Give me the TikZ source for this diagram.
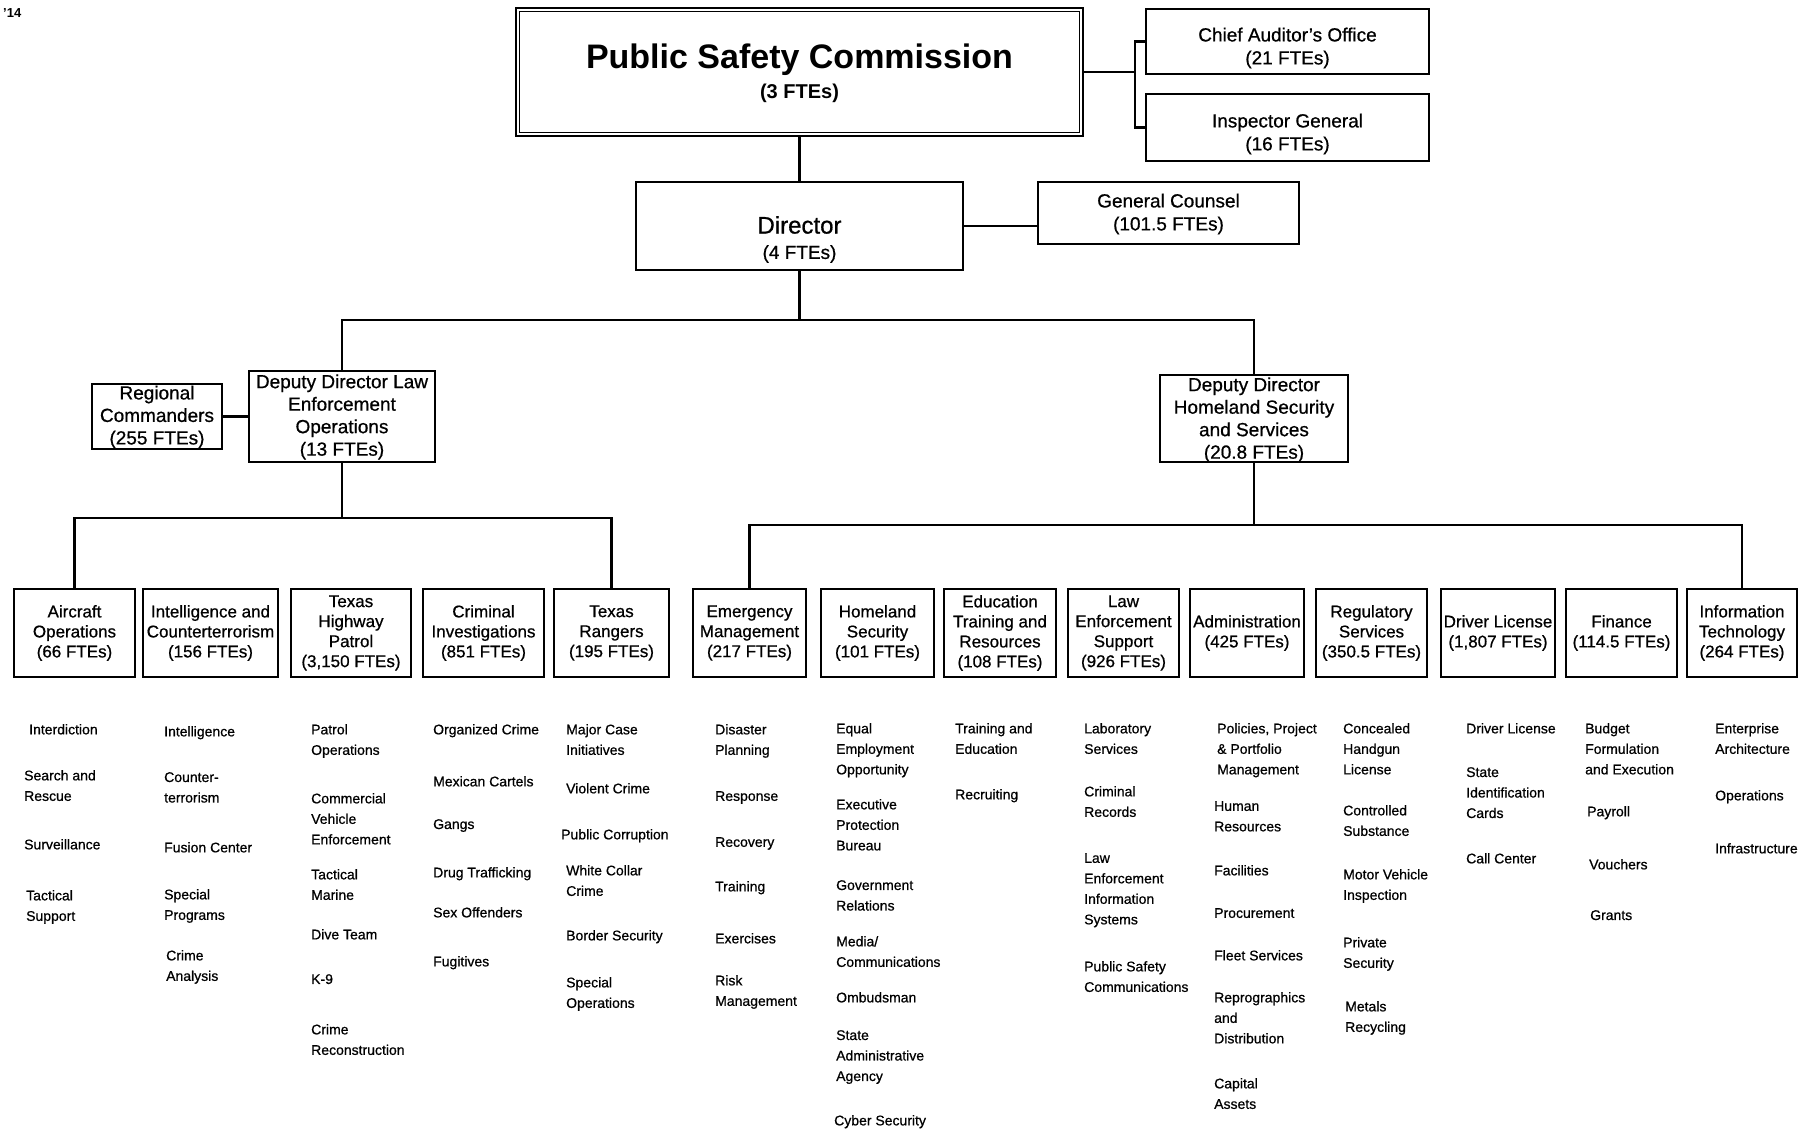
\documentclass[tikz,border=0pt]{standalone}
\usepackage{fontspec}
\setmainfont{Liberation Sans}
\newfontfamily\heavy[FakeBold=0.7]{Liberation Sans}
\begin{document}
\begin{tikzpicture}[x=1pt,y=-1pt,
  line/.style={line width=2.2pt},
  box/.style={draw,line width=2.2pt,inner sep=1pt,align=center,font=\heavy\fontsize{17}{20}\selectfont,minimum height=88pt},
  frame/.style={draw,line width=2.2pt,inner sep=0pt},
  lbl/.style={align=center,inner sep=0pt,font=\heavy\fontsize{19}{22.5}\selectfont},
  item/.style={anchor=north west,align=left,inner sep=0pt,font=\heavy\fontsize{14}{20.5}\selectfont}]
\path[use as bounding box] (0,0) rectangle (1806,1130);

\node[anchor=west,inner sep=0pt,font=\bfseries\fontsize{13}{14}\selectfont] (hdr) at (3,13) {’14};

% top level
\node[frame,line width=2.6pt,minimum width=567pt,minimum height=128pt] (psc) at (799.5,72) {};
\draw[line width=1.2pt] ([shift={(5pt,-5pt)}]psc.north west) rectangle ([shift={(-5pt,5pt)}]psc.south east);
\node[inner sep=0pt,font=\bfseries\fontsize{34}{40}\selectfont] (pscT) at (799.5,60) {Public Safety Commission};
\node[inner sep=0pt,font=\bfseries\fontsize{20}{24}\selectfont] (pscF) at (799.5,93) {(3 FTEs)};

\node[frame,minimum width=283pt,minimum height=65pt] (cao) at (1287.5,41.5) {};
\node[lbl,font=\heavy\fontsize{19}{23}\selectfont] (caoT) at (1287.5,48) {Chief Auditor’s Office\\(21 FTEs)};
\node[frame,minimum width=283pt,minimum height=67pt] (ig) at (1287.5,127.5) {};
\node[lbl,font=\heavy\fontsize{19}{23}\selectfont] (igT) at (1287.5,134) {Inspector General\\(16 FTEs)};

\node[frame,minimum width=327pt,minimum height=88pt] (dir) at (799.5,226) {};
\node[inner sep=0pt,font=\heavy\fontsize{24}{28}\selectfont] (dirT) at (799.5,225) {Director};
\node[inner sep=0pt,font=\heavy\fontsize{19}{22}\selectfont] (dirF) at (799.5,254) {(4 FTEs)};

\node[frame,minimum width=261pt,minimum height=62pt] (gc) at (1168.5,213) {};
\node[lbl,font=\heavy\fontsize{19}{23}\selectfont] (gcT) at (1168.5,214) {General Counsel\\(101.5 FTEs)};

\node[frame,minimum width=186pt,minimum height=91pt] (ddl) at (342,416.5) {};
\node[lbl] (ddlT) at (342,417) {Deputy Director Law\\Enforcement\\Operations\\(13 FTEs)};
\node[frame,minimum width=130pt,minimum height=65pt] (rc) at (157,416.5) {};
\node[lbl] (rcT) at (157,417) {Regional\\Commanders\\(255 FTEs)};
\node[frame,minimum width=188pt,minimum height=87pt] (ddh) at (1254,418.5) {};
\node[lbl] (ddhT) at (1254,420) {Deputy Director\\Homeland Security\\and Services\\(20.8 FTEs)};

% divisions
\node[box,minimum width=121pt] (air) at (74.5,633) {Aircraft\\Operations\\(66 FTEs)};
\node[box,minimum width=135pt] (intel) at (210.5,633) {Intelligence and\\Counterterrorism\\(156 FTEs)};
\node[box,minimum width=120pt] (thp) at (351,633) {Texas\\Highway\\Patrol\\(3,150 FTEs)};
\node[box,minimum width=121pt] (ci) at (483.5,633) {Criminal\\Investigations\\(851 FTEs)};
\node[box,minimum width=115pt] (rng) at (611.5,633) {Texas\\Rangers\\(195 FTEs)};
\node[box,minimum width=113pt] (em) at (749.5,633) {Emergency\\Management\\(217 FTEs)};
\node[box,minimum width=113pt] (hs) at (877.5,633) {Homeland\\Security\\(101 FTEs)};
\node[box,minimum width=112pt] (etr) at (1000,633) {Education\\Training and\\Resources\\(108 FTEs)};
\node[box,minimum width=111pt] (les) at (1123.5,633) {Law\\Enforcement\\Support\\(926 FTEs)};
\node[box,minimum width=114pt] (adm) at (1247,633) {Administration\\(425 FTEs)};
\node[box,minimum width=111pt] (reg) at (1371.5,633) {Regulatory\\Services\\(350.5 FTEs)};
\node[box,minimum width=114pt] (dl) at (1498,633) {Driver License\\(1,807 FTEs)};
\node[box,minimum width=111pt] (fin) at (1621.5,633) {Finance\\(114.5 FTEs)};
\node[box,minimum width=110pt] (it) at (1742,633) {Information\\Technology\\(264 FTEs)};

% connectors
\coordinate (bx) at (1135,0);
\coordinate (busA) at (0,320);
\coordinate (busL) at (0,518);
\coordinate (busR) at (0,525);
\draw[line] (psc.east) -- (psc.east -| bx);
\draw[line] (cao.west) -- (cao.west -| bx) |- (ig.west);
\draw[line] (psc.south) -- (dir.north);
\draw[line] (dir.east) -- (dir.east -| gc.west);
\draw[line] (dir.south) -- (dir.south |- busA);
\draw[line] (ddl.north) -- (ddl.north |- busA) -- (ddh.north |- busA) -- (ddh.north);
\draw[line] (rc.east) -- (ddl.west);
\draw[line] (ddl.south) -- (ddl.south |- busL);
\draw[line] (air.north) -- (air.north |- busL) -- (rng.north |- busL) -- (rng.north);
\draw[line] (ddh.south) -- (ddh.south |- busR);
\draw[line] (em.north) -- (em.north |- busR) -- (it.north |- busR) -- (it.north);

% lists
\node[item] (a1) at (29,724) {Interdiction};
\node[item] (a2) at (24,770) {Search and\\Rescue};
\node[item] (a3) at (24,839) {Surveillance};
\node[item] (a4) at (26,890) {Tactical\\Support};

\node[item] (b1) at (164,726) {Intelligence};
\node[item] (b2) at (164,772) {Counter-\\terrorism};
\node[item] (b3) at (164,842) {Fusion Center};
\node[item] (b4) at (164,889) {Special\\Programs};
\node[item] (b5) at (166,950) {Crime\\Analysis};

\node[item] (c1) at (311,724) {Patrol\\Operations};
\node[item] (c2) at (311,793) {Commercial\\Vehicle\\Enforcement};
\node[item] (c3) at (311,869) {Tactical\\Marine};
\node[item] (c4) at (311,929) {Dive Team};
\node[item] (c5) at (311,974) {K-9};
\node[item] (c6) at (311,1024) {Crime\\Reconstruction};

\node[item] (d1) at (433,724) {Organized Crime};
\node[item] (d2) at (433,776) {Mexican Cartels};
\node[item] (d3) at (433,819) {Gangs};
\node[item] (d4) at (433,867) {Drug Trafficking};
\node[item] (d5) at (433,907) {Sex Offenders};
\node[item] (d6) at (433,956) {Fugitives};

\node[item] (e1) at (566,724) {Major Case\\Initiatives};
\node[item] (e2) at (566,783) {Violent Crime};
\node[item] (e3) at (561,829) {Public Corruption};
\node[item] (e4) at (566,865) {White Collar\\Crime};
\node[item] (e5) at (566,930) {Border Security};
\node[item] (e6) at (566,977) {Special\\Operations};

\node[item] (f1) at (715,724) {Disaster\\Planning};
\node[item] (f2) at (715,791) {Response};
\node[item] (f3) at (715,837) {Recovery};
\node[item] (f4) at (715,881) {Training};
\node[item] (f5) at (715,933) {Exercises};
\node[item] (f6) at (715,975) {Risk\\Management};

\node[item] (g1) at (836,723) {Equal\\Employment\\Opportunity};
\node[item] (g2) at (836,799) {Executive\\Protection\\Bureau};
\node[item] (g3) at (836,880) {Government\\Relations};
\node[item] (g4) at (836,936) {Media/\\Communications};
\node[item] (g5) at (836,992) {Ombudsman};
\node[item] (g6) at (836,1030) {State\\Administrative\\Agency};
\node[item] (g7) at (834,1115) {Cyber Security};

\node[item] (h1) at (955,723) {Training and\\Education};
\node[item] (h2) at (955,789) {Recruiting};

\node[item] (i1) at (1084,723) {Laboratory\\Services};
\node[item] (i2) at (1084,786) {Criminal\\Records};
\node[item] (i3) at (1084,853) {Law\\Enforcement\\Information\\Systems};
\node[item] (i4) at (1084,961) {Public Safety\\Communications};

\node[item] (j1) at (1217,723) {Policies, Project\\\& Portfolio\\Management};
\node[item] (j2) at (1214,801) {Human\\Resources};
\node[item] (j3) at (1214,865) {Facilities};
\node[item] (j4) at (1214,908) {Procurement};
\node[item] (j5) at (1214,950) {Fleet Services};
\node[item] (j6) at (1214,992) {Reprographics\\and\\Distribution};
\node[item] (j7) at (1214,1078) {Capital\\Assets};

\node[item] (k1) at (1343,723) {Concealed\\Handgun\\License};
\node[item] (k2) at (1343,805) {Controlled\\Substance};
\node[item] (k3) at (1343,869) {Motor Vehicle\\Inspection};
\node[item] (k4) at (1343,937) {Private\\Security};
\node[item] (k5) at (1345,1001) {Metals\\Recycling};

\node[item] (l1) at (1466,723) {Driver License};
\node[item] (l2) at (1466,767) {State\\Identification\\Cards};
\node[item] (l3) at (1466,853) {Call Center};

\node[item] (m1) at (1585,723) {Budget\\Formulation\\and Execution};
\node[item] (m2) at (1587,806) {Payroll};
\node[item] (m3) at (1589,859) {Vouchers};
\node[item] (m4) at (1590,910) {Grants};

\node[item] (n1) at (1715,723) {Enterprise\\Architecture};
\node[item] (n2) at (1715,790) {Operations};
\node[item] (n3) at (1715,843) {Infrastructure};
\end{tikzpicture}
\end{document}
